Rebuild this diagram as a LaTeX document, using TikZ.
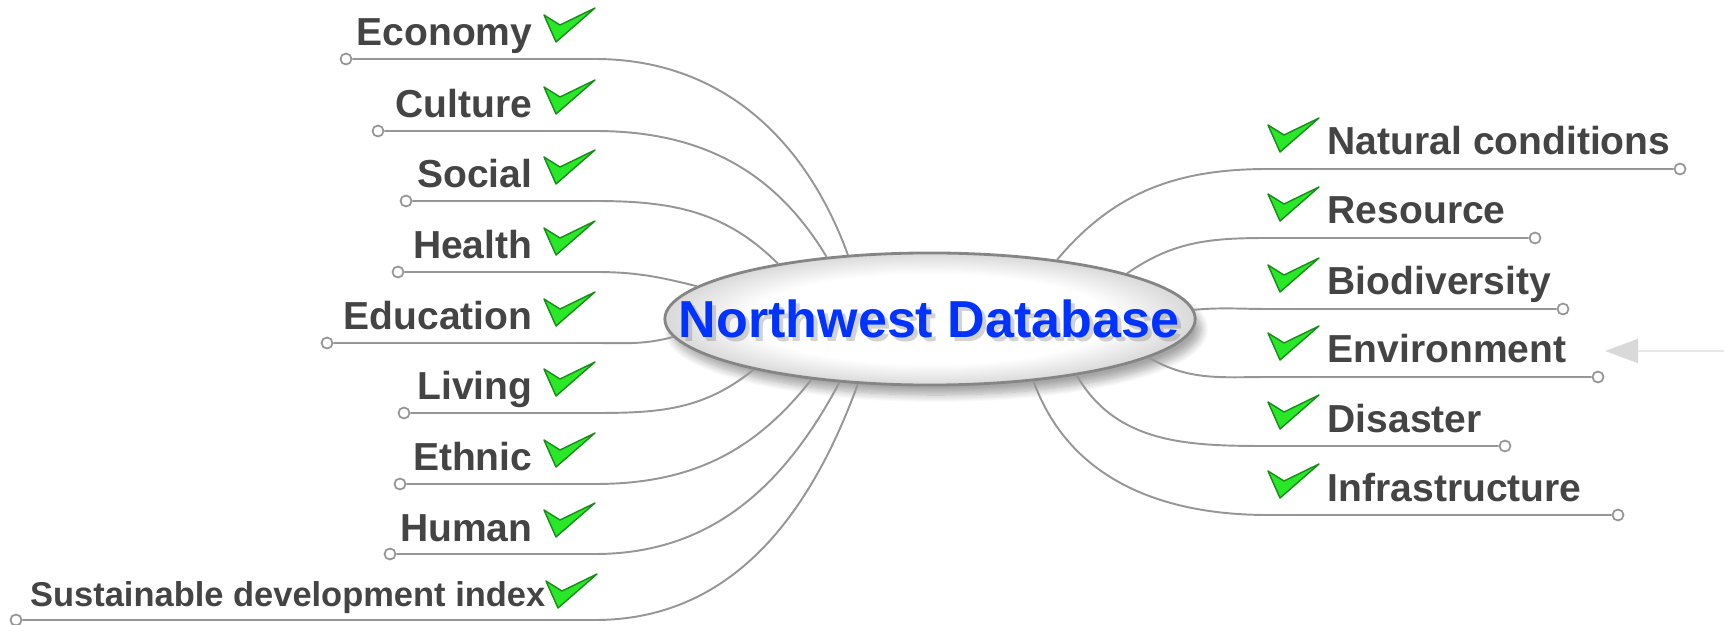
\documentclass[tikz,border=0pt]{standalone}
\usepackage{fontspec}
\setmainfont{Liberation Sans}
\usetikzlibrary{shapes.geometric,shadows.blur,arrows.meta}

\definecolor{labelgray}{RGB}{68,68,68}
\definecolor{linegray}{RGB}{150,150,150}
\definecolor{hubblue}{RGB}{0,51,255}
\definecolor{tickgreen}{RGB}{40,232,40}
\definecolor{tickedge}{RGB}{25,140,25}

\pgfdeclareradialshading{hubshade}{\pgfpointorigin}{color(0bp)=(white); color(17bp)=(white); color(25bp)=(black!15); color(50bp)=(black!15)}

\tikzset{
	hub/.style={ellipse, draw=black!48, line width=0.8pt, inner sep=0pt,
		minimum width=5.3cm, minimum height=1.32cm, shading=hubshade,
		blur shadow={shadow xshift=0.6mm, shadow yshift=-1mm, shadow blur steps=10, shadow opacity=35}},
	hubtext/.style={text=hubblue, font=\bfseries\fontsize{14.8pt}{17pt}\selectfont, inner sep=0pt},
	branch/.style={draw=linegray, line width=0.55pt},
	enddot/.style={circle, draw=linegray, fill=white, line width=0.5pt, inner sep=0pt, minimum size=0.11cm},
	leftlabel/.style={anchor=base east, text=labelgray, inner sep=0pt, font=\bfseries\fontsize{11.1pt}{13pt}\selectfont},
	rightlabel/.style={anchor=base west, text=labelgray, inner sep=0pt, font=\bfseries\fontsize{11.1pt}{13pt}\selectfont},
	hint/.style={draw=black!9, line width=0.6pt, -{Triangle[length=0.33cm, width=0.24cm, color=black!15]}},
	greentick/.pic={
		\filldraw[fill=tickgreen, draw=tickedge, line width=0.4pt, line join=round]
			(0,-7) -- (16,-17) -- (51,0) -- (12,-34) -- cycle;
	}
}

\begin{document}
\begin{tikzpicture}[x=0.01cm, y=0.01cm]
	\useasboundingbox (0,0) rectangle (1724,624);

	\node[hub] (db) at (930,305) {};
	\node[hubtext, text=black!50, opacity=0.35] at (933,301) {Northwest Database};
	\node[hubtext] (title) at (929,305) {Northwest Database};

	% left side
	\foreach \nm/\yl/\xe/\ang/\out/\txt in {
		eco/565/346/142/110/Economy,
		cul/493/378/149/121/Culture,
		soc/423/406/160/135/Social,
		hea/352/398/172/166/Health,
		edu/281/327/184/195/Education,
		liv/211/404/196/219/Living,
		eth/140/400/207/232/Ethnic,
		hum/70/390/215/242/Human}
	{
		\coordinate (\nm-knee) at (595,\yl);
		\node[enddot] (\nm-end) at (\xe,\yl) {};
		\draw[branch] (db.\ang) to[out=\out,in=0] (\nm-knee) -- (\nm-end);
		\node[leftlabel] (\nm) at (533,\yl+13) {\txt};
		\pic at (544,\yl+51) {greentick};
	}
	\coordinate (sdi-knee) at (595,4);
	\node[enddot] (sdi-end) at (16,4) {};
	\draw[branch] (db.222) to[out=250,in=0] (sdi-knee) -- (sdi-end);
	\node[leftlabel, font=\bfseries\fontsize{9.8pt}{12pt}\selectfont] (sdi) at (546,18) {Sustainable development index};
	\pic at (546,50) {greentick};

	% right side
	\foreach \nm/\yl/\xe/\ang/\out/\txt in {
		nat/455/1680/25/50/Natural conditions,
		res/386/1535/13/35/Resource,
		bio/315/1563/2/5/Biodiversity,
		env/247/1598/350/330/Environment,
		dis/178/1505/339/300/Disaster,
		inf/109/1618/329/290/Infrastructure}
	{
		\coordinate (\nm-knee) at (1268,\yl);
		\node[enddot] (\nm-end) at (\xe,\yl) {};
		\draw[branch] (db.\ang) to[out=\out,in=180] (\nm-knee) -- (\nm-end);
		\node[rightlabel] (\nm) at (1327,\yl+14) {\txt};
		\pic at (1268,\yl+51) {greentick};
	}

	\coordinate (hint-tail) at (1724,273);
	\coordinate (hint-tip) at (1605,273);
	\draw[hint] (hint-tail) -- (hint-tip);
\end{tikzpicture}
\end{document}
